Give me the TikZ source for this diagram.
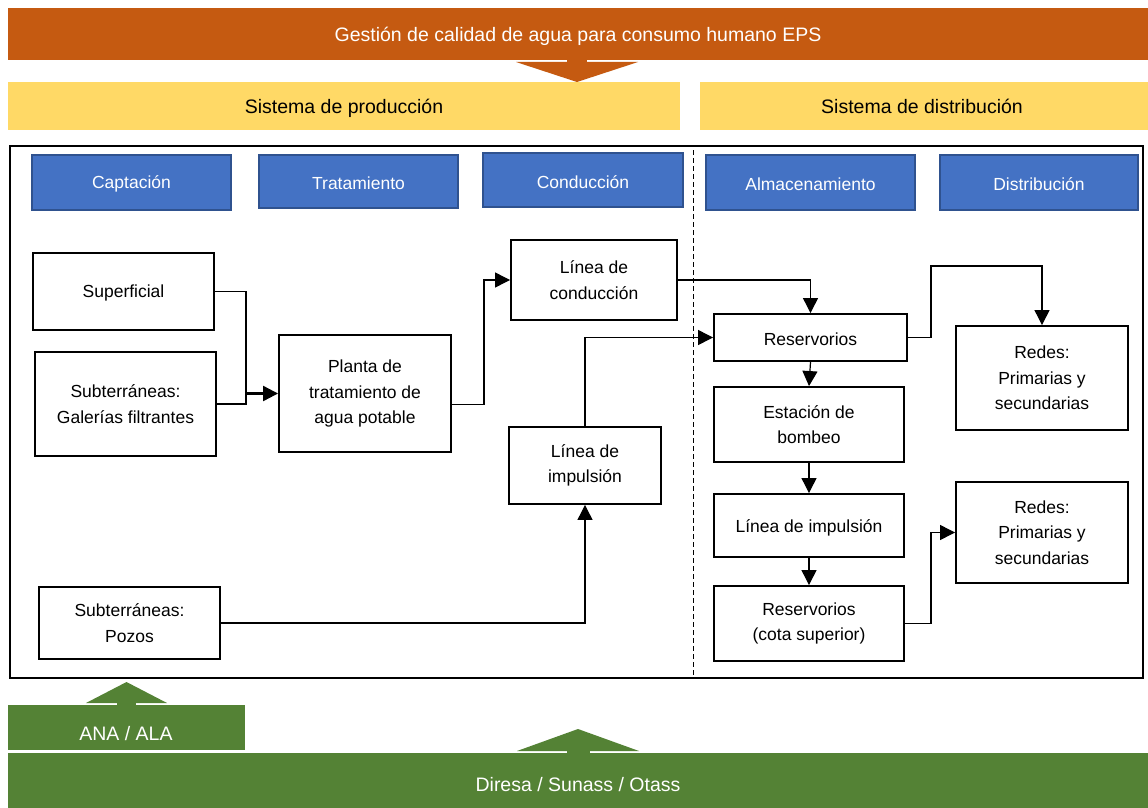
\documentclass[tikz,border=0pt]{standalone}
\usepackage{fontspec}
\setmainfont{Liberation Sans}
\usetikzlibrary{arrows.meta,calc}
\definecolor{epsorange}{HTML}{C55A11}
\definecolor{sysyellow}{HTML}{FFD966}
\definecolor{hdrblue}{HTML}{4472C4}
\definecolor{hdrline}{HTML}{2F528F}
\definecolor{regreen}{HTML}{548235}
\begin{document}
\begin{tikzpicture}[x=1pt,y=-1pt,
  % a tall first line keeps the lettering a little below the box centre
  lowtext/.style={execute at begin node={\rule{0pt}{0.95em}}},
  banner/.style={lowtext, inner sep=0, text=white, font=\fontsize{19.5}{23}\selectfont},
  systitle/.style={lowtext, inner sep=0, font=\fontsize{19.5}{23}\selectfont},
  hdr/.style={lowtext, fill=hdrblue, draw=hdrline, line width=1.4pt, text=white, inner sep=0,
              font=\fontsize{17.5}{22}\selectfont},
  stagebox/.style={lowtext, draw, line width=1.9pt, fill=white, align=center, inner sep=0,
              font=\fontsize{17.5}{25.3}\selectfont},
  link/.style={line width=1.2pt},
  arr/.style={link, -{Triangle[length=15pt,width=15pt]}}
]
% canvas
\fill[white] (0,0) rectangle (1148,808);
\useasboundingbox (0,0) rectangle (1148,808);

% top management banner and its arrow
\fill[epsorange] (8,8) rectangle (1148,60);
\node[banner] (eps) at (578,34) {Gestión de calidad de agua para consumo humano EPS};
\fill[epsorange] (516,62) -- (638,62) -- (577,82) -- cycle;
\fill[epsorange] (567,59) rectangle (587,63);

% system bars
\fill[sysyellow] (8,82) rectangle (680,130);
\node[systitle] (prod) at (344,106) {Sistema de producción};
\fill[sysyellow] (700,82) rectangle (1148,130);
\node[systitle] (distr) at (922,104) {Sistema de distribución};

% main frame and the production/distribution divide
\draw[line width=1.5pt] (10,146) rectangle (1143,678);
\draw[line width=1pt, dash pattern=on 5pt off 3pt] (693,150) -- (693,675);

% stage headers
\node[hdr, minimum width=199pt, minimum height=55pt] (capt) at (131.5,182.5) {Captación};
\node[hdr, minimum width=199pt, minimum height=53pt] (trat) at (358.5,181.5) {Tratamiento};
\node[hdr, minimum width=200pt, minimum height=54pt] (cond) at (583,180) {Conducción};
\node[hdr, minimum width=209pt, minimum height=55pt] (alm) at (810.5,182.5) {Almacenamiento};
\node[hdr, minimum width=198pt, minimum height=55pt] (dist) at (1039,182.5) {Distribución};

% production side
\node[stagebox, minimum width=181pt, minimum height=77pt] (sup) at (123.5,291.5) {Superficial};
\node[stagebox, minimum width=181pt, minimum height=104pt] (gal) at (125.5,404) {Subterráneas:\\Galerías filtrantes};
\node[stagebox, minimum width=172pt, minimum height=117pt] (pta) at (365,393.5) {Planta de\\tratamiento de\\agua potable};
\node[stagebox, minimum width=166pt, minimum height=80pt] (lcon) at (594,280) {Línea de\\conducción};
\node[stagebox, minimum width=152pt, minimum height=77pt] (limp) at (585,465.5) {Línea de\\impulsión};
\node[stagebox, minimum width=181pt, minimum height=72pt] (poz) at (129.5,623) {Subterráneas:\\Pozos};

% distribution side
\node[stagebox, minimum width=193pt, minimum height=47pt] (res) at (810.5,337.5) {Reservorios};
\node[stagebox, minimum width=190pt, minimum height=75pt] (est) at (809,424.5) {Estación de\\bombeo};
\node[stagebox, minimum width=190pt, minimum height=63pt] (limpb) at (809,525.5) {Línea de impulsión};
\node[stagebox, minimum width=190pt, minimum height=75pt] (resc) at (809,623.5) {Reservorios\\(cota superior)};
\node[stagebox, minimum width=172pt, minimum height=104pt] (red1) at (1042,378) {Redes:\\Primarias y\\secundarias};
\node[stagebox, minimum width=172pt, minimum height=101pt] (red2) at (1042,532.5) {Redes:\\Primarias y\\secundarias};

% flows
\coordinate (merge) at (246,393.5);
\draw[link] (sup.east) -| (merge);
\draw[link] (gal.east) -| (merge);
\draw[arr, line width=2.2pt] (merge) -- (pta.west);
\draw[arr] ($(pta.east)+(0,11)$) -- ++(32,0) |- (lcon.west);
\draw[arr] (lcon.east) -| (res.north);
\draw[arr] (poz.east) -| (limp.south);
\draw[arr] (limp.north) |- (res.west);
\draw[arr] (res.south) -- (est.north);
\draw[arr] (est.south) -- (limpb.north);
\draw[arr] (limpb.south) -- (resc.north);
\draw[arr] (res.east) -- ++(23,0) -- ++(0,-71.5) -| (red1.north);
\draw[arr] (resc.east) -- ++(26,0) |- (red2.west);

% regulators
\fill[regreen] (8,705) rectangle (245,750);
\node[banner] (ana) at (126,731) {ANA / ALA};
\fill[regreen] (86,703) -- (167,703) -- (126.5,682) -- cycle;
\fill[regreen] (117,701) rectangle (136,706);

\fill[regreen] (8,753) rectangle (1148,808);
\node[banner] (dir) at (578,782) {Diresa / Sunass / Otass};
\fill[regreen] (517,751) -- (639,751) -- (578,729) -- cycle;
\fill[regreen] (567,749) rectangle (590,754);
\end{tikzpicture}
\end{document}
